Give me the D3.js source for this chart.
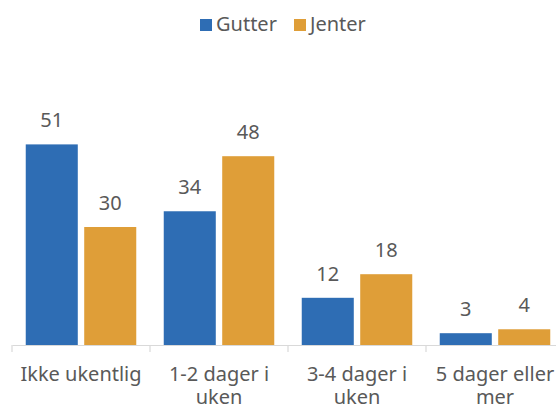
<!DOCTYPE html>
<html>
<head>
<meta charset="utf-8">
<script src="https://cdn.jsdelivr.net/npm/d3@7"></script>
<style>
  html, body { margin: 0; padding: 0; background: #fff; }
  svg { display: block; font-family: "Noto Sans", sans-serif; }
</style>
</head>
<body>
<svg id="chart" width="556" height="407"></svg>
<script>
const categories = [["Ikke ukentlig"], ["1-2 dager i", "uken"], ["3-4 dager i", "uken"], ["5 dager eller", "mer"]];
const seriesNames = ["Gutter", "Jenter"];
const gutter = [51, 34, 12, 3];
const jenter = [30, 48, 18, 4];
const colors = ["#2E6DB4", "#DF9E38"];
const textColor = "#595959";

const svg = d3.select("#chart");
const baseY = 345;
const left = 12;
const band = 138;

const x0 = d3.scaleBand()
  .domain(d3.range(categories.length))
  .range([left, left + band * categories.length])
  .paddingInner(0).paddingOuter(0);

const x1 = d3.scaleBand()
  .domain(seriesNames)
  .range([0, x0.bandwidth()])
  .paddingInner(0.11)
  .paddingOuter(0.235);

const y = d3.scaleLinear().domain([0, 60]).range([baseY, 109]);

const values = [gutter, jenter];
const rows = categories.map((c, i) => seriesNames.map((s, j) => ({ i, s, j, v: values[j][i] })));

const groups = svg.append("g").selectAll("g")
  .data(rows).join("g")
  .attr("transform", (d, i) => `translate(${x0(i)},0)`);

groups.selectAll("rect")
  .data(d => d).join("rect")
  .attr("x", d => x1(d.s))
  .attr("y", d => y(d.v))
  .attr("width", x1.bandwidth())
  .attr("height", d => baseY - y(d.v))
  .attr("fill", d => colors[d.j]);

groups.selectAll("text.val")
  .data(d => d).join("text")
  .attr("class", "val")
  .attr("x", d => x1(d.s) + x1.bandwidth() / 2)
  .attr("y", d => y(d.v) - 17)
  .attr("text-anchor", "middle")
  .attr("fill", textColor)
  .attr("font-size", 20)
  .text(d => d.v);

// category axis
const axis = svg.append("g").attr("transform", `translate(0,${baseY})`)
  .call(d3.axisBottom(x0).tickSize(0).tickFormat(""));
axis.select(".domain").attr("stroke", "#d9d9d9").attr("stroke-width", 1.2);
axis.selectAll(".tick").remove();

const bounds = d3.range(categories.length + 1).map(i => left + band * i);
axis.selectAll("line.sep")
  .data(bounds).join("line")
  .attr("class", "sep")
  .attr("x1", d => d).attr("x2", d => d)
  .attr("y1", 0).attr("y2", 7)
  .attr("stroke", "#d9d9d9").attr("stroke-width", 1.2);

const labels = svg.append("g").selectAll("text")
  .data(categories).join("text")
  .attr("text-anchor", "middle")
  .attr("fill", textColor)
  .attr("font-size", 20)
  .attr("transform", (d, i) => `translate(${x0(i) + x0.bandwidth() / 2},381)`);
labels.selectAll("tspan")
  .data(d => d).join("tspan")
  .attr("x", 0)
  .attr("dy", (d, k) => k === 0 ? 0 : 23)
  .text(d => d);

// legend
const legend = svg.append("g");
const legendItems = [{ name: "Gutter", x: 200 }, { name: "Jenter", x: 294 }];
legendItems.forEach((it, j) => {
  legend.append("rect")
    .attr("x", it.x).attr("y", 19)
    .attr("width", 12).attr("height", 12)
    .attr("fill", colors[j]);
  legend.append("text")
    .attr("x", it.x + 16).attr("y", 31)
    .attr("fill", textColor)
    .attr("font-size", 20)
    .text(it.name);
});
</script>
</body>
</html>
